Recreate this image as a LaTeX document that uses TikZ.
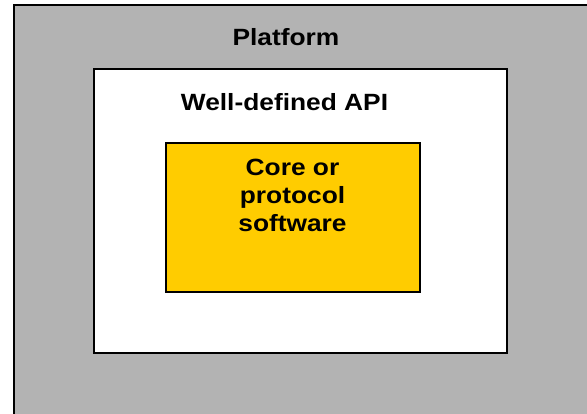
\documentclass[tikz,border=0pt]{standalone}
\usepackage{fontspec}
\setmainfont{Liberation Sans}[FakeStretch=1.12]
\usepackage{xcolor}
\usetikzlibrary{positioning}
\definecolor{platformgray}{RGB}{179,179,179}
\definecolor{coreyellow}{RGB}{255,204,0}

\begin{document}
\begin{tikzpicture}[x=1pt,y=-1pt,
		box/.style={draw=black, line width=1.6pt, inner sep=0pt, anchor=north west},
		label/.style={font=\bfseries\fontsize{23.5}{28}\selectfont, inner sep=0pt, anchor=base, align=center}]
		\useasboundingbox (0,0) rectangle (587,414);
		\clip (0,0) rectangle (587,414);
		
		\node[box, fill=platformgray, minimum width=590pt, minimum height=420pt] (platform) at (13,4) {};
		\node[box, fill=white, minimum width=413pt, minimum height=284pt] (api) at (93,68) {};
		\node[box, fill=coreyellow, minimum width=254pt, minimum height=149pt] (core) at (165,142) {};
		
		\node[label] (platformtext) at (286,45.5) {Platform};
		\node[label] (apitext) at (284.5,110.5) {Well-defined API};
		\node[label] (coretext) at (292.5,231.5) {Core or\\protocol\\software};
	\end{tikzpicture}
\end{document}
